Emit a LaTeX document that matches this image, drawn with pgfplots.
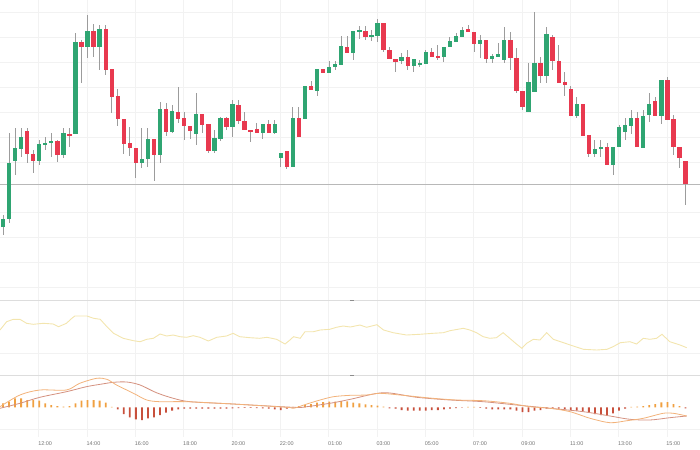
\documentclass[border=0pt]{standalone}
\usepackage{pgfplots}
\pgfplotsset{compat=1.18}
\usepackage{pgfplotstable}
\usepackage{fontspec}
\setmainfont{Liberation Sans}
\definecolor{cgreen}{HTML}{2FA572}
\definecolor{cred}{HTML}{E8394F}
\definecolor{wick}{HTML}{9C9C9C}
\definecolor{rsiline}{HTML}{F3E5AE}
\definecolor{macdline}{HTML}{F2B27A}
\definecolor{sigline}{HTML}{D4917F}
\definecolor{histpos}{HTML}{F0A040}
\definecolor{histneg}{HTML}{C8503C}
\definecolor{sepline}{HTML}{DDDDDD}

% k = candle index, t/b = body top/bottom, h/l = wick high/low (pixel-like price scale, downward)
\pgfplotstableread{
k t b h l
0 219 227 215 235
1 163 219 133 223
2 148 161 128 175
3 137 149 128 157
6 144 161 140 165
7 143 145 137 150
8 141 143 133 157
10 133 155 128 158
12 42 134 33 134
14 31 47 15 58
16 29 47 25 70
23 159 163 128 168
24 139 159 128 167
26 109 155 102 163
28 111 132 105 133
32 114 134 93 145
35 138 151 130 153
36 118 139 117 141
38 104 127 100 137
43 124 133 124 139
45 124 133 120 134
46 153 158 153 167
48 118 167 107 167
50 86 119 86 119
52 69 91 69 96
54 67 73 61 73
55 64 67 61 70
56 46 65 36 65
58 31 53 31 60
59 30 31 26 39
61 35 36 30 41
62 23 36 19 42
66 57 61 53 64
68 59 66 59 72
69 63 64 60 67
70 52 64 50 64
73 47 57 47 62
74 41 47 37 47
75 36 42 33 42
76 30 37 27 37
79 40 44 35 58
81 56 59 54 63
82 54 57 43 57
83 40 60 27 63
87 82 112 63 112
88 63 92 12 92
90 34 76 27 83
95 104 116 97 118
98 149 154 140 157
99 147 149 140 157
101 147 165 147 175
102 127 147 125 147
103 125 132 118 140
104 118 126 110 134
106 116 148 110 148
107 104 115 93 122
109 80 116 80 124
}\greenc

\pgfplotstableread{
k t b h l
4 131 154 128 163
5 154 161 150 173
9 141 155 140 162
11 134 135 128 147
13 42 47 40 83
15 31 47 24 57
17 29 70 25 75
18 69 97 69 113
19 96 119 89 126
20 119 144 119 154
21 143 148 127 156
22 148 163 148 178
25 139 155 139 181
27 109 132 103 136
29 112 119 87 123
30 118 126 112 140
31 126 131 126 139
33 114 125 114 133
34 124 151 124 153
37 118 127 117 130
39 105 121 100 124
40 121 130 112 130
41 130 132 130 142
42 129 133 123 133
44 124 133 120 133
47 151 167 151 169
49 118 137 107 137
51 86 90 81 90
53 69 73 69 73
57 47 53 36 53
60 31 37 26 40
63 23 50 23 52
64 50 59 47 59
65 59 62 59 72
67 57 66 50 70
71 52 57 48 57
72 56 57 45 60
77 29 32 25 32
78 32 44 32 52
80 40 59 40 63
84 40 58 32 70
85 58 91 48 93
86 91 107 91 110
89 63 76 57 83
91 37 61 35 70
92 61 83 45 83
93 82 85 72 96
94 89 116 86 116
96 104 136 104 136
97 135 154 135 157
100 147 165 143 165
105 118 147 112 147
108 101 116 97 116
110 80 120 77 120
111 119 147 115 155
112 147 158 147 168
113 161 184 161 205
}\redc

\pgfplotsset{
  panel/.style={
    width=700bp, scale only axis,
    xmin=-0.4967, xmax=115.397,
    axis line style={draw=none},
    major tick length=0pt,
    xtick={-2.1,5.9,13.9,21.9,29.9,37.9,45.9,53.9,61.9,69.9,77.9,85.9,93.9,101.9,109.9},
    xticklabels={}, yticklabels={},
    xmajorgrids, ymajorgrids,
    major grid style={draw=black!5, line width=0.6bp},
  },
  candle/.style={draw=none, mark=none, forget plot,
    error bars/.cd, y dir=both, y explicit, error mark=none,
    error bar style={solid, line cap=butt, #1}},
}

\begin{document}
\begin{tikzpicture}
\path[use as bounding box] (0bp,0bp) rectangle (700bp,-450bp);

% ---------------- main candlestick panel ----------------
\begin{axis}[panel, name=main, at={(0bp,0bp)}, anchor=north west, height=300bp,
  ymin=0, ymax=300, y dir=reverse,
  ytick={12,37,62,87,112,137,162,212,237,262,287}]
\addplot[black!28, line width=0.7bp] coordinates {(-1,184) (117,184)};
% wicks
\addplot[candle={line width=1bp, draw=wick}]
  table[x=k, y expr=(\thisrow{h}+\thisrow{l})/2, y error expr=(\thisrow{l}-\thisrow{h})/2] {\greenc};
\addplot[candle={line width=1bp, draw=wick}]
  table[x=k, y expr=(\thisrow{h}+\thisrow{l})/2, y error expr=(\thisrow{l}-\thisrow{h})/2] {\redc};
% bodies
\addplot[candle={line width=4.3bp, draw=cgreen}]
  table[x=k, y expr=(\thisrow{t}+\thisrow{b})/2, y error expr=(\thisrow{b}-\thisrow{t})/2] {\greenc};
\addplot[candle={line width=4.3bp, draw=cred}]
  table[x=k, y expr=(\thisrow{t}+\thisrow{b})/2, y error expr=(\thisrow{b}-\thisrow{t})/2] {\redc};
\end{axis}

% ---------------- oscillator line panel ----------------
\begin{axis}[panel, name=osc, at={(0bp,-300bp)}, anchor=north west, height=75bp,
  ymin=300, ymax=375, y dir=reverse, ytick={353}, clip=false]
\addplot[sepline, line width=0.8bp] coordinates {(-0.4967,300) (115.397,300)};
\addplot[black!45, line width=0.8bp] coordinates {(57.5,300.6) (58.1,300.6)};
\addplot[rsiline, line width=0.9bp] coordinates {
(-0.5,330) (0.6,321.7) (1.7,319.3) (2.8,319.3) (3.9,323.3) (5.0,324.3) (6.7,323.3) (8.3,324)
(9.2,326.7) (10.5,323.3) (11.4,318.3) (11.9,316) (13.9,316) (15.0,318.3) (16.1,319.3) (17.2,326.7)
(18.3,333.3) (19.9,338.3) (21.6,340.7) (22.7,341.7) (23.8,339.3) (24.9,338.3) (26.0,334) (27.1,336)
(28.2,335) (29.3,336.7) (30.4,337.3) (31.5,335.7) (32.6,337.3) (34.0,341) (35.4,337.3) (37.0,336)
(38.1,333.3) (39.2,336.7) (40.9,337.7) (42.5,338.3) (43.7,337.3) (45.3,339.3) (46.7,344) (47.5,340)
(48.1,336.7) (49.2,338.3) (50.0,331.7) (51.4,331.7) (52.5,330) (54.1,329.3) (55.2,327.3) (56.3,326)
(57.5,327) (59.1,325) (60.2,327.3) (61.9,324.7) (63.0,330) (64.6,332.7) (66.8,335) (69.0,334.3)
(71.2,333.3) (72.9,332.7) (74.0,330.7) (76.2,328.3) (77.3,330) (78.4,332.7) (79.5,336.7) (80.6,338.3)
(81.7,337.7) (82.8,332.7) (83.9,338.3) (85.0,344) (85.9,348.3) (86.7,343.3) (87.8,339.3) (88.9,340)
(90.0,332.7) (91.1,339.3) (92.8,342.7) (94.4,346) (96.1,349.3) (98.3,350) (100.0,349.3) (101.0,346.7)
(102.2,342.7) (103.8,341.7) (104.9,344) (106.0,338.3) (107.1,339.3) (108.2,338.3) (109.1,334.3)
(110.4,341.7) (112.1,345) (113.2,347.7)};
\end{axis}

% ---------------- MACD panel ----------------
\begin{axis}[panel, at={(0bp,-375bp)}, anchor=north west, height=62bp,
  ymin=-29.7, ymax=32.3, ytick={-22}, clip=false,
  xticklabels={10:00,12:00,14:00,16:00,18:00,20:00,22:00,01:00,03:00,05:00,07:00,09:00,11:00,13:00,15:00},
  xticklabel style={font=\fontsize{5.5}{6.5}\selectfont, text=black!55, xshift=6.5bp, yshift=-1bp}]
\addplot[sepline, line width=0.8bp] coordinates {(-0.4967,32.3) (115.397,32.3)};
\addplot[black!45, line width=0.8bp] coordinates {(57.5,31.7) (58.1,31.7)};
\addplot[ybar, bar width=1.8bp, bar shift=0pt, draw=none, fill=histpos] coordinates {
(0,4) (1,5.6) (2,9) (3,9) (4,7.3) (5,7.3) (6,6.6) (7,4) (8,2.3) (9,1.3) (10,0.6) (11,1.3)
(12,4) (13,6.6) (14,7.3) (15,7.3) (16,6.6) (17,4.6) (18,0.5)
(48,0.5) (49,1.3) (50,2.3) (51,3.3) (52,4.6) (53,5.3) (54,5.6) (55,5.6) (56,6.3) (57,6)
(58,4.6) (59,4) (60,3) (61,2.3) (62,1.6) (63,0.8) (77,0.4) (78,0.4)
(104,0.4) (105,0.6) (106,1.3) (107,2.3) (108,3.3) (109,5) (110,5.3) (111,3.3) (112,1.3)};
\addplot[ybar, bar width=1.8bp, bar shift=0pt, draw=none, fill=histneg] coordinates {
(19,-2) (20,-6.7) (21,-10) (22,-12) (23,-12.7) (24,-11) (25,-10) (26,-7.7) (27,-5.4) (28,-3.4)
(29,-2) (30,-1.4) (31,-1.4) (32,-1.2) (33,-1.2) (34,-1.2) (35,-1.2) (36,-1.2) (37,-1.2) (38,-1)
(39,-0.8) (40,-0.6) (41,-0.6) (42,-0.8) (43,-1) (44,-1.2) (45,-2) (46,-2.7) (47,-1.4)
(64,-1) (65,-1.4) (66,-2.7) (67,-3.4) (68,-3.4) (69,-3.4) (70,-3.4) (71,-2.7) (72,-2.7) (73,-2)
(74,-1.4) (75,-0.7) (76,-0.4) (79,-0.5) (80,-1.4) (81,-2) (82,-2) (83,-2) (84,-2) (85,-3.4)
(86,-4.7) (87,-4.7) (88,-3.4) (89,-2.7) (90,-1.4) (91,-0.5) (92,-1.4) (93,-2) (94,-2.7) (95,-3.4)
(96,-4) (97,-5.4) (98,-6.7) (99,-7.7) (100,-7.7) (101,-6) (102,-3.4) (103,-1.4) (113,-1)};
\addplot[sigline, line width=0.8bp, smooth] coordinates {
(-0.5,-1) (2.8,4) (6.1,10) (10.5,15.6) (13.8,20.6) (16.1,23) (18.3,25) (20.5,25.3) (22.7,22.3)
(25.4,14.6) (28.2,9) (31,5.6) (38.1,3.3) (48.1,0) (50.3,0.6) (54.7,4.6) (57.5,8) (63,14.6)
(68.5,10) (74,7.3) (79.5,5.6) (85,2.3) (90.6,-1) (96.1,-4.4) (100.5,-8.7) (103.8,-12)
(107.1,-12.7) (110.4,-10.4) (113.2,-8.7)};
\addplot[macdline, line width=0.8bp, smooth] coordinates {
(-0.5,0.6) (2.8,12.3) (6.1,17.3) (10.5,17.3) (12.7,24) (15.5,29) (17.2,28) (18.8,22.3) (21.6,14)
(23.8,7.3) (26.0,5.6) (30.4,5.6) (38.1,3.3) (47,0) (48.1,-1) (50.3,3.3) (52.5,7.3) (54.7,10.6)
(57.5,12) (60.2,12.3) (62.4,14) (65.7,12.3) (71.2,9) (75.1,7.3) (79.5,6.6) (83.9,4) (87.2,0.6)
(90.6,-1) (93.9,-4.4) (97.2,-11) (100.5,-15.4) (103.3,-13.4) (106,-11) (109.3,-6) (111,-6)
(113.2,-8.7)};
\end{axis}
\end{tikzpicture}
\end{document}
